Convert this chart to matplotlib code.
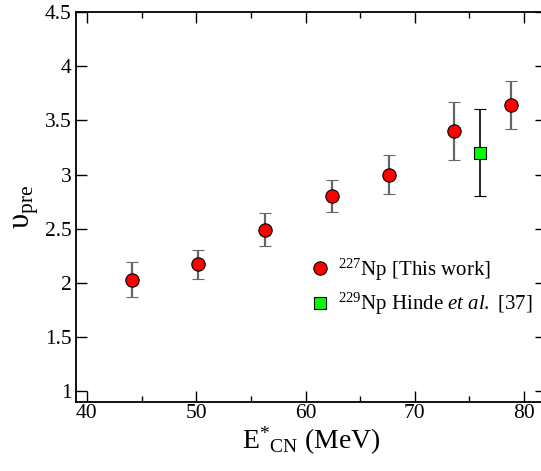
import matplotlib
matplotlib.use("Agg")
import matplotlib.pyplot as plt
from matplotlib.lines import Line2D
from matplotlib.ticker import MultipleLocator

plt.rcParams['font.family'] = ['Liberation Serif', 'DejaVu Serif']
plt.rcParams['mathtext.fontset'] = 'custom'
plt.rcParams['mathtext.rm'] = 'Liberation Serif'
plt.rcParams['mathtext.it'] = 'Liberation Serif:italic'
plt.rcParams['mathtext.bf'] = 'Liberation Serif:bold'

# 227Np [This work]
e_this = [44.1, 50.2, 56.3, 62.4, 67.6, 73.6, 78.8]
nu_this = [2.03, 2.17, 2.49, 2.80, 3.00, 3.40, 3.64]
err_this = [0.16, 0.13, 0.15, 0.15, 0.18, 0.27, 0.22]

# 229Np Hinde et al. [37]
e_hinde = [76.0]
nu_hinde = [3.20]
err_hinde = [0.40]

W, H = 541, 471
fig = plt.figure(figsize=(W / 100, H / 100), dpi=100)
L, R, T, B = 76, 546, 12, 402
ax = fig.add_axes([L / W, 1 - B / H, (R - L) / W, (B - T) / H])

eb = ax.errorbar(e_this, nu_this, yerr=err_this, fmt='o', color='red',
                 ms=9.6, mec='black', mew=0.8, ecolor='#666666', elinewidth=1.6,
                 capsize=4, capthick=1.2, zorder=3)
for c in eb[1]:
    c.set_color('black')
eb2 = ax.errorbar(e_hinde, nu_hinde, yerr=err_hinde, fmt='s', color='#00ff00',
                  ms=8.5, mec='black', mew=0.8, ecolor='black', elinewidth=1.2,
                  capsize=4, capthick=1.2, zorder=3)

ax.set_xlim(39, 82)
ax.set_ylim(0.9, 4.5)
ax.xaxis.set_major_locator(MultipleLocator(10))
ax.xaxis.set_minor_locator(MultipleLocator(5))
ax.yaxis.set_major_locator(MultipleLocator(0.5))
ax.yaxis.set_major_formatter(matplotlib.ticker.FuncFormatter(lambda v, p: ('%g' % v)))
ax.tick_params(which='both', direction='in', top=True, right=True, width=1)
ax.tick_params(which='major', length=8, labelsize=15.5)
ax.tick_params(axis='x', which='major', pad=1.5)
ax.tick_params(axis='y', which='major', pad=3)
ax.tick_params(which='minor', length=4)
for s in ax.spines.values():
    s.set_linewidth(1.3)

ax.set_xlabel(r'E$^{*}$$_{\rm CN}$ (MeV)', fontsize=20, labelpad=1)
ax.set_ylabel(r'υ$_{\rm pre}$', fontsize=22, labelpad=3)

handles = [Line2D([], [], ls='none', marker='o', color='red', ms=9.6, mec='black', mew=0.8),
           Line2D([], [], ls='none', marker='s', color='#00ff00', ms=8.5, mec='black', mew=0.8)]
labels = [r'$^{227}$Np [This work]', r'$^{229}$Np Hinde $\it{et\ al.}$ [37]']
fig.legend(handles, labels, loc='center left', bbox_to_anchor=(300 / W, 1 - 287 / H),
           frameon=False, fontsize=15, handletextpad=0.3, labelspacing=0.4,
           handlelength=1.1, borderaxespad=0)

fig.savefig('out.png', dpi=100)
